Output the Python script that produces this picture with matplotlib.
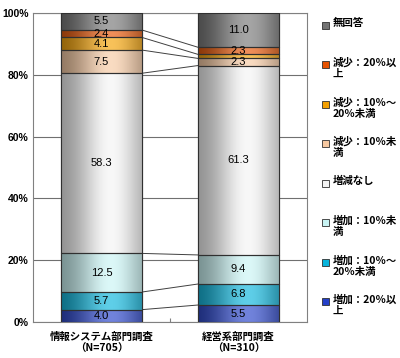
import numpy as np
import matplotlib
matplotlib.use("Agg")
import matplotlib.pyplot as plt
from matplotlib.patches import Rectangle

plt.rcParams['font.family'] = ['Noto Sans CJK JP', 'DejaVu Sans']

groups = ["情報システム部門調査\n（N=705）", "経営系部門調査\n（N=310）"]
# bottom -> top
categories = ["増加：20％以上", "増加：10％～20％未満", "増加：10％未満", "増減なし",
              "減少：10％未満", "減少：10％～20％未満", "減少：20％以上", "無回答"]
legend_labels = ["増加：20％以\n上", "増加：10％～\n20％未満", "増加：10％未\n満", "増減なし",
                 "減少：10％未\n満", "減少：10％～\n20％未満", "減少：20％以\n上", "無回答"]
info_sys = [4.0, 5.7, 12.5, 58.3, 7.5, 4.1, 2.4, 5.5]
mgmt = [5.5, 6.8, 9.4, 61.3, 2.3, 1.3, 2.3, 11.0]
show_label = [[True] * 8, [True, True, True, True, True, False, True, True]]
colors = ["#2440c8", "#08b4dc", "#c8f4f4", "#f4f4f4",
          "#f6c8a0", "#f4a000", "#e65200", "#747474"]

fig = plt.figure(figsize=(4.0, 3.58), dpi=100)
ax = fig.add_axes([33/400, 36/358, 274/400, 309/358])

x = np.arange(len(groups))
width = 0.59


def shade(hexcol):
    base = np.array(matplotlib.colors.to_rgb(hexcol))
    t = np.linspace(0, 1, 64)
    # cylinder-like shading: dark edges, highlight right of centre
    f = np.exp(-((t - 0.62) / 0.42) ** 2)
    dark = base * 0.55
    light = base + (1 - base) * 0.35
    cols = dark[None, :] * (1 - f[:, None]) + light[None, :] * f[:, None]
    return np.clip(cols[None, :, :], 0, 1)


series = [info_sys, mgmt]
tops = []
for gi, vals in enumerate(series):
    bottoms = np.concatenate([[0], np.cumsum(vals)[:-1]])
    bars = ax.bar([x[gi]] * len(vals), vals, width, bottom=bottoms, color=colors,
                  edgecolor="#303030", linewidth=0.8, zorder=3)
    for bi, b in enumerate(bars):
        x0, y0 = b.get_x(), b.get_y()
        ax.imshow(shade(colors[bi]), extent=[x0, x0 + b.get_width(), y0, y0 + b.get_height()],
                  aspect="auto", zorder=3.5, interpolation="bilinear")
        ax.add_patch(Rectangle((x0, y0), b.get_width(), b.get_height(), fill=False,
                               edgecolor="#303030", linewidth=0.8, zorder=4))
        if show_label[gi][bi]:
            ax.text(x[gi], y0 + b.get_height() / 2, f"{vals[bi]:.1f}", ha="center",
                    va="center", fontsize=8, color="black", zorder=5,
                    family=['Liberation Sans', 'DejaVu Sans'])
    tops.append(np.cumsum(vals))

# connector lines between the two bars
for a, b in zip(tops[0][:-1], tops[1][:-1]):
    ax.plot([x[0] + width / 2, x[1] - width / 2], [a, b], color="#404040", lw=0.7, zorder=2)

ax.set_xlim(-0.5, 1.5)
ax.set_ylim(0, 100)
ax.set_yticks(np.arange(0, 101, 20))
ax.set_yticklabels([f"{v}%" for v in range(0, 101, 20)], fontsize=7.5, fontweight="bold",
                   family=['Liberation Sans', 'DejaVu Sans'])
ax.yaxis.grid(True, color="#707070", lw=0.8, zorder=0)
ax.set_axisbelow(True)
ax.tick_params(axis="y", length=0, pad=3)
ax.set_xticks([0.5])
ax.set_xticklabels([""])
ax.tick_params(axis="x", length=3, direction="in", color="#808080")
for s in ax.spines.values():
    s.set_color("#808080")
    s.set_linewidth(0.8)
for gi, g in enumerate(groups):
    ax.text(x[gi], -3.0, g, ha="center", va="top", fontsize=7.5, fontweight="bold",
            linespacing=1.3)

# legend drawn at the right, top entry = last category
y_top = 0.932
step = 39.5 / 358
for i, (lab, c) in enumerate(zip(legend_labels[::-1], colors[::-1])):
    yy = y_top - i * step
    fig.patches.append(Rectangle((322/400, yy - 0.012), 7/400, 7/358, transform=fig.transFigure,
                                 facecolor=c, edgecolor="#303030", linewidth=0.6))
    fig.text(333/400, yy + 0.018, lab, ha="left", va="top", fontsize=7.5, fontweight="bold",
             linespacing=1.15)

fig.savefig("out.png", dpi=100)
